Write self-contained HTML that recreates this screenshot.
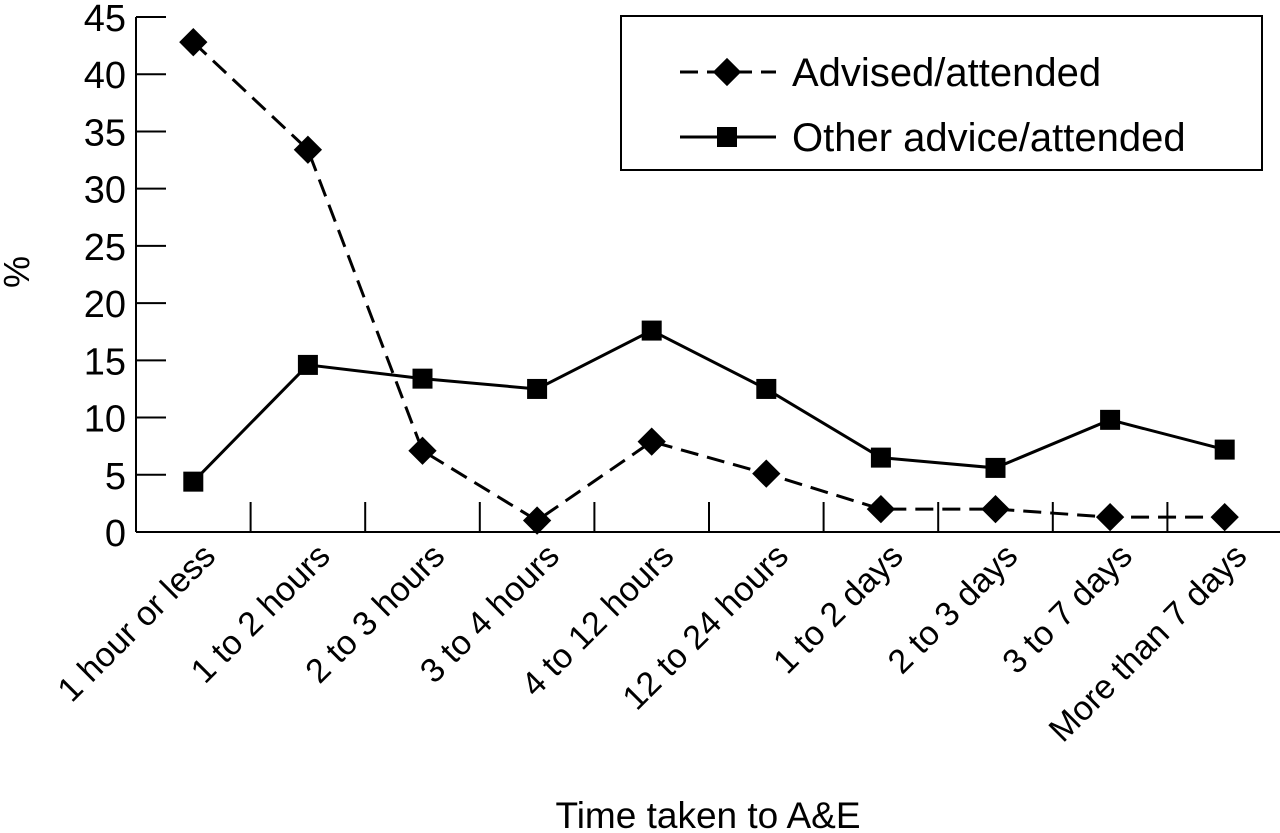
<!DOCTYPE html>
<html><head><meta charset="utf-8"><style>body{margin:0;background:#fff}svg{display:block}text{font-family:"Liberation Sans",sans-serif;fill:#000}</style></head>
<body>
<svg width="1280" height="833" viewBox="0 0 1280 833">
<g id="axes"></g><g id="series"></g>
<g>
<rect x="621" y="16" width="641" height="154" fill="#fff" stroke="#000" stroke-width="2"/>
<line x1="680" y1="72" x2="776" y2="72" stroke="#000" stroke-width="3" stroke-dasharray="18,9"/>
<rect x="717" y="62" width="20" height="20" transform="rotate(45 727 72)" fill="#000"/>
<text x="792" y="86" font-size="40">Advised/attended</text>
<line x1="680" y1="137" x2="776" y2="137" stroke="#000" stroke-width="3"/>
<rect x="717" y="127" width="20" height="20" fill="#000"/>
<text x="792" y="151" font-size="40">Other advice/attended</text>
</g>
<text x="708" y="828" font-size="37" text-anchor="middle">Time taken to A&amp;E</text>
<text x="0" y="0" font-size="36" text-anchor="middle" transform="translate(4,272) rotate(90)">%</text>
</svg>
<script>
const categories=["1 hour or less","1 to 2 hours","2 to 3 hours","3 to 4 hours","4 to 12 hours","12 to 24 hours","1 to 2 days","2 to 3 days","3 to 7 days","More than 7 days"];
const advised=[42.8,33.4,7.1,1.0,7.9,5.1,2.0,2.0,1.3,1.3];
const other=[4.4,14.6,13.4,12.5,17.6,12.5,6.5,5.6,9.8,7.2];
const yTicks=[0,5,10,15,20,25,30,35,40,45];
const NS="http://www.w3.org/2000/svg";
const x0=136,x1=1282,y0=532,yTop=17,yMax=45;
const band=(x1-x0)/categories.length;
const xs=i=>x0+band*(i+0.5);
const ys=v=>y0-(y0-yTop)*v/yMax;
function mk(t,a,p){const e=document.createElementNS(NS,t);for(const k in a)e.setAttribute(k,a[k]);p.appendChild(e);return e;}
const ax=document.getElementById('axes'),se=document.getElementById('series');
let l=mk('line',{x1:x0,y1:y0,x2:x1,y2:y0,stroke:'#000','stroke-width':2},ax);


l=mk('line',{x1:x0,y1:y0,x2:x0,y2:yTop,stroke:'#000','stroke-width':2},ax);


yTicks.forEach(v=>{const y=ys(v);
 mk('line',{x1:x0,y1:y,x2:x0+30,y2:y,stroke:'#000','stroke-width':2},ax);
 const t=mk('text',{x:x0-10,y:y+14,'font-size':38,'text-anchor':'end'},ax);t.textContent=v;
 
 });
categories.forEach((c,i)=>{
 if(i>0)mk('line',{x1:x0+band*i,y1:y0,x2:x0+band*i,y2:y0-30,stroke:'#000','stroke-width':2},ax);
 const cx=xs(i)+24,cy=y0+26;
 const t=mk('text',{x:cx,y:cy,'font-size':34,'text-anchor':'end',transform:`rotate(-45 ${cx} ${cy})`},ax);t.textContent=c;
 
 });
function line(vals,dash,name){
 const p=mk('polyline',{points:vals.map((v,i)=>xs(i)+','+ys(v)).join(' '),fill:'none',stroke:'#000','stroke-width':3},se);
 if(dash)p.setAttribute('stroke-dasharray','18,9');
 
 }
line(advised,true,'advised');line(other,false,'other');
advised.forEach((v,i)=>{const x=xs(i),y=ys(v);
 const r=mk('rect',{x:x-10,y:y-10,width:20,height:20,fill:'#000',transform:`rotate(45 ${x} ${y})`},se);
 
 });
other.forEach((v,i)=>{const x=xs(i),y=ys(v);
 const r=mk('rect',{x:x-10,y:y-10,width:20,height:20,fill:'#000'},se);
 
 });
</script>
</body></html>
